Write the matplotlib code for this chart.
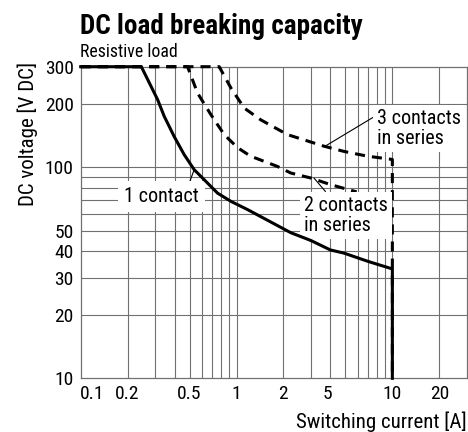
"""DC load breaking capacity – log/log relay curve."""
import matplotlib
matplotlib.use('Agg')
import matplotlib.pyplot as plt

plt.rcParams['font.family'] = ['Liberation Sans Narrow', 'Roboto Condensed',
                               'Archivo Narrow', 'DejaVu Sans']

# curves (current [A], voltage [V DC])
one_i = [0.1, 0.245, 0.312, 0.343, 0.398, 0.461, 0.535, 0.755, 0.92, 1.18, 2.23, 3.0, 4.0, 4.9, 7.0, 10.0, 10.0]
one_u = [300, 300, 209, 175, 140, 115, 97.5, 75.5, 69, 63, 49, 45, 40.6, 39.2, 35.8, 33, 10]

two_i = [0.1, 0.485, 0.562, 0.684, 0.833, 1.015, 1.23, 1.83, 2.23, 3.0, 4.02, 5.9]
two_u = [300, 300, 225, 178, 143, 124, 113, 101, 94, 89, 82.8, 76.5]

three_i = [0.1, 0.774, 0.92, 1.12, 1.43, 2.12, 3.64, 4.89, 6.9, 10.0, 10.0]
three_u = [300, 300, 238, 191, 168, 143, 126, 119, 113, 109, 10]

# grid + tick labels
x_grid = [0.2, 0.3, 0.4, 0.5, 0.6, 0.7, 0.8, 0.9, 1, 2, 3, 4, 5, 6, 7, 8, 9, 10, 20]
y_grid = [20, 30, 40, 50, 60, 70, 80, 90, 100, 200]
x_tick_pos = [0.119, 0.2, 0.5, 1, 2, 3.85, 10, 20]   # labels sit like this in the original
x_tick_lbl = ['0.1', '0.2', '0.5', '1', '2', '5', '10', '20']
y_tick_pos = [10, 20, 30, 40, 50, 100, 200, 300]
y_tick_lbl = ['10', '20', '30', '40', '50', '100', '200', '300']

W, H = 468, 432
fig = plt.figure(figsize=(W / 100, H / 100), dpi=100)
ax = fig.add_axes([80.7 / W, 1 - 378.3 / H, 386 / W, 311.6 / H])
ax.set_xscale('log')
ax.set_yscale('log')
ax.set_xlim(0.1, 30)
ax.set_ylim(10, 300)

grid_col = '#707070'
for x in x_grid:
    ax.axvline(x, color=grid_col, lw=0.8, zorder=1)
for y in y_grid:
    ax.axhline(y, color=grid_col, lw=0.8, zorder=1)
for s in ax.spines.values():
    s.set_color(grid_col)
    s.set_linewidth(0.9)

ax.xaxis.set_minor_locator(matplotlib.ticker.NullLocator())
ax.yaxis.set_minor_locator(matplotlib.ticker.NullLocator())
ax.set_xticks(x_tick_pos, x_tick_lbl)
ax.set_yticks(y_tick_pos, y_tick_lbl)
ax.tick_params(length=0, labelsize=14, pad=5)

# curves
ax.plot(three_i, three_u, color='black', lw=2.2, dashes=(3.3, 2.3), clip_on=False, zorder=3)
ax.plot(two_i, two_u, color='black', lw=2.2, dashes=(3.3, 2.3), clip_on=False, zorder=3)
ax.plot(one_i, one_u, color='black', lw=2.2, clip_on=False, zorder=6)

# labels with leader lines
fs_lbl = 14.5
box = dict(boxstyle='square,pad=0.2', fc='white', ec='none')
ax.annotate('3 contacts\nin series', xy=(3.64, 125), xytext=(8.0, 190),
            ha='left', va='top', fontsize=fs_lbl, bbox=box, zorder=5, linespacing=1.1,
            arrowprops=dict(arrowstyle='-', lw=0.8, color='black', relpos=(0, 0.84),
                            shrinkA=0, shrinkB=0))
ax.annotate('2 contacts\nin series', xy=(3.14, 89), xytext=(2.7, 73.5),
            ha='left', va='top', fontsize=fs_lbl, bbox=box, zorder=5, linespacing=1.1,
            arrowprops=dict(arrowstyle='-', lw=0.8, color='black', relpos=(0.3, 1),
                            shrinkA=0, shrinkB=0))
ax.annotate('1 contact', xy=(0.535, 97.5), xytext=(0.19, 72.6),
            ha='left', va='center', fontsize=fs_lbl,
            bbox=dict(boxstyle='square,pad=0.3', fc='white', ec='none'), zorder=5,
            arrowprops=dict(arrowstyle='-', lw=0.8, color='black', relpos=(0.85, 1),
                            shrinkA=0, shrinkB=0))

# titles and axis labels
fig.text(80 / W, 1 - 33.5 / H, 'DC load breaking capacity', fontsize=19.5,
         fontweight='bold', ha='left', va='baseline')
fig.text(80 / W, 1 - 57 / H, 'Resistive load', fontsize=12.8, ha='left', va='baseline')
fig.text(28 / W, 1 - 62 / H, 'DC voltage [V DC]', fontsize=15, rotation=90,
         ha='center', va='top')
fig.text(466.7 / W, 1 - 421.5 / H, 'Switching current [A]', fontsize=15,
         ha='right', va='center')

fig.savefig('out.png', dpi=100)
